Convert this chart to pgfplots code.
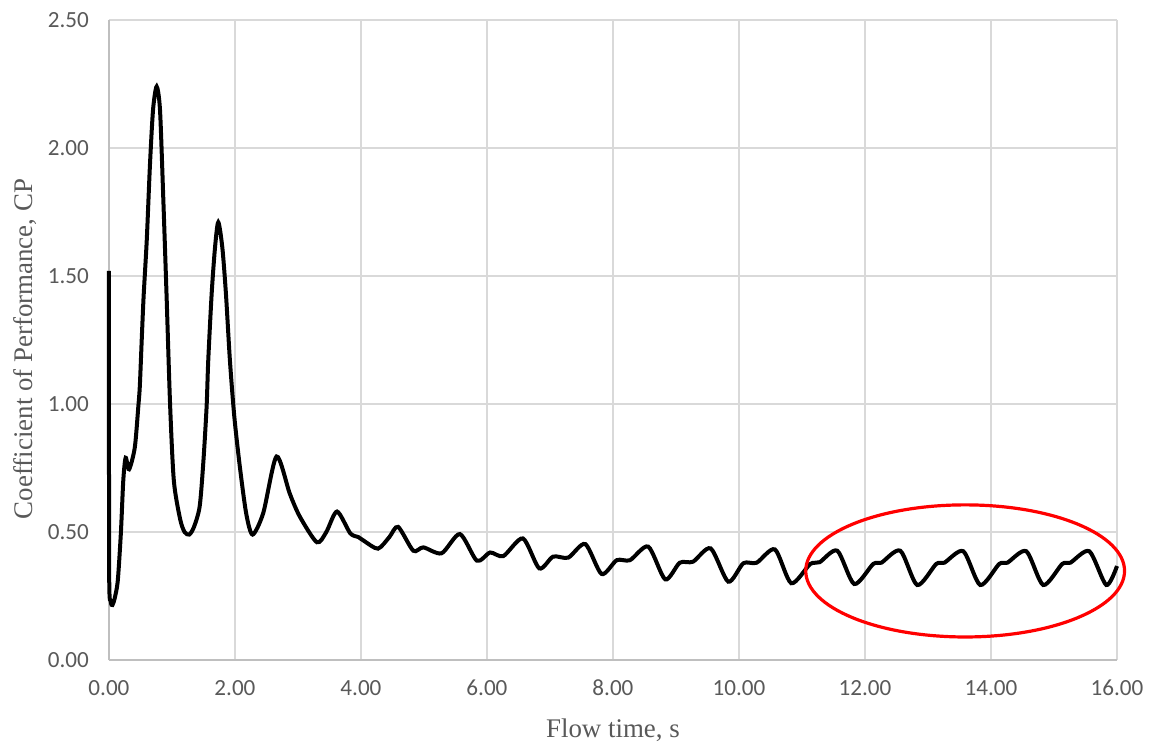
\documentclass[border=0pt]{standalone}
\usepackage{fontspec}
\setmainfont{Liberation Serif}
\newfontfamily\carlito{Carlito}
\usepackage{pgfplots}
\pgfplotsset{compat=1.18}
\definecolor{txtgray}{HTML}{595959}
\definecolor{gridgray}{HTML}{D9D9D9}
\definecolor{axgray}{HTML}{BFBFBF}
\begin{document}
\begin{tikzpicture}
\begin{axis}[
  scale only axis,
  width=504bp, height=320bp,
  xmin=0, xmax=16, ymin=0, ymax=2.5,
  xtick={0,2,...,16}, ytick={0,0.5,...,2.5},
  axis lines=left,
  axis line style={-, draw=axgray, line width=0.9bp},
  grid=major,
  major grid style={draw=gridgray, line width=0.9bp},
  major tick length=0pt,
  tick style={draw=none},
  /pgf/number format/assume math mode=true,
  /pgf/number format/fixed, /pgf/number format/fixed zerofill, /pgf/number format/precision=2,
  tick label style={font=\carlito\fontsize{11.6}{13}\selectfont, text=txtgray},
  xticklabel style={yshift=-6.5bp},
  yticklabel style={xshift=-6.5bp},
  xlabel={Flow time, s},
  ylabel={Coefficient of Performance, CP},
  label style={font=\fontsize{13.5}{15}\selectfont, text=txtgray},
  xlabel style={at={(axis description cs:0.5,-0.109)}, anchor=center},
  ylabel style={at={(axis description cs:-0.0755,0.486)}, anchor=base, rotate=0},
  clip=false,
]
\addplot[black, line width=2bp, smooth, tension=0.45] coordinates {
(0,1.52) (0.003,0.35) (0.028,0.23) (0.055,0.215) (0.09,0.24) (0.14,0.31) (0.19,0.50) (0.227,0.70)
(0.265,0.79) (0.32,0.745) (0.41,0.83) (0.466,0.99) (0.49,1.07) (0.52,1.25)
(0.55,1.42) (0.60,1.64) (0.65,1.93) (0.70,2.15) (0.757,2.24)
(0.81,2.15) (0.86,1.82) (0.915,1.42) (0.97,1.0) (1.03,0.70) (1.13,0.55)
(1.20,0.50) (1.275,0.49) (1.35,0.52) (1.44,0.60) (1.50,0.78) (1.55,0.99)
(1.576,1.17) (1.63,1.43) (1.683,1.61) (1.735,1.71) (1.80,1.61) (1.857,1.43)
(1.92,1.17) (1.99,0.95) (2.08,0.75) (2.18,0.57) (2.28,0.49)
(2.45,0.575) (2.66,0.795) (2.87,0.65) (3.03,0.56) (3.30,0.46) (3.45,0.50)
(3.62,0.58) (3.83,0.495) (3.96,0.48) (4.05,0.465) (4.27,0.435) (4.45,0.48)
(4.59,0.52) (4.83,0.427) (4.99,0.44) (5.28,0.417) (5.57,0.492) (5.84,0.388)
(6.05,0.42) (6.26,0.406) (6.57,0.475) (6.83,0.358) (7.05,0.404) (7.29,0.40)
(7.56,0.453) (7.82,0.336) (8.06,0.39) (8.27,0.39) (8.56,0.443) (8.83,0.315)
(9.06,0.38) (9.27,0.384) (9.55,0.436) (9.83,0.306) (10.07,0.378) (10.28,0.38)
(10.57,0.432) (10.83,0.30) (11.13,0.375) (11.28,0.382) (11.56,0.427) (11.83,0.297)
(12.13,0.375) (12.26,0.38) (12.56,0.427) (12.83,0.293) (13.13,0.375) (13.26,0.38)
(13.56,0.425) (13.83,0.293) (14.13,0.375) (14.26,0.38) (14.56,0.425) (14.83,0.293)
(15.13,0.375) (15.26,0.38) (15.56,0.425) (15.83,0.293) (16.0,0.367)
};
\draw[red, line width=1.6bp] (axis cs:13.59,0.348) ellipse [x radius=2.53, y radius=0.258];
\path (rel axis cs:-0.1081,-0.1359) (rel axis cs:1.0407,1.03125);
\end{axis}
\end{tikzpicture}
\end{document}
